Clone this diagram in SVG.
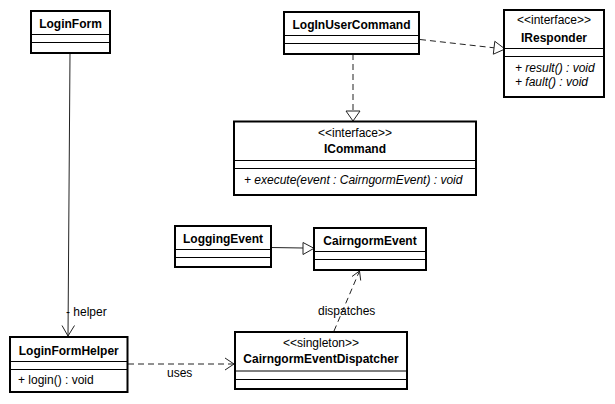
<svg xmlns="http://www.w3.org/2000/svg" width="615" height="404" viewBox="0 0 615 404">
<style>
.box{fill:#fff;stroke:#000;stroke-width:2}
.sep{stroke:#000;stroke-width:1}
text{font-family:"Liberation Sans",Arial,sans-serif;font-size:12px;fill:#000}
.name{font-weight:bold;text-anchor:middle}
.st{text-anchor:middle}
.op{font-style:italic}
.ln{fill:none;stroke:#222;stroke-width:1}
.dash{stroke-dasharray:6,4}
.tri{fill:#fff;stroke:#222;stroke-width:1}
</style>
<rect width="615" height="404" fill="#fff"/>
<g id="connectors">
  <!-- LoginForm to LoginFormHelper -->
  <line class="ln" x1="70" y1="53" x2="68" y2="336"/>
  <polyline class="ln" points="62,325.5 68,336 74.5,325.5"/>
  <text x="66" y="316">- helper</text>
  <!-- LogInUserCommand to IResponder -->
  <line class="ln dash" x1="420" y1="39.5" x2="494" y2="47.8"/>
  <polygon class="tri" points="494.8,41.3 505,49 493.3,54.2"/>
  <!-- LogInUserCommand to ICommand -->
  <line class="ln dash" x1="353" y1="54" x2="353" y2="111"/>
  <polygon class="tri" points="346,111 360,111 353,121"/>
  <!-- LoggingEvent to CairngormEvent -->
  <line class="ln" x1="271" y1="247.5" x2="303" y2="248"/>
  <polygon class="tri" points="303,242.5 314,248.3 303,254.5"/>
  <!-- CairngormEventDispatcher to CairngormEvent -->
  <line class="ln dash" x1="334" y1="331" x2="359.5" y2="271"/>
  <polyline class="ln" points="352,276.5 359.5,271 360.7,280.5"/>
  <text x="318" y="315">dispatches</text>
  <!-- LoginFormHelper to CairngormEventDispatcher -->
  <line class="ln dash" x1="128" y1="364" x2="234" y2="364"/>
  <polyline class="ln" points="225,358 234,364 225,370"/>
  <text x="167" y="377">uses</text>
</g>
<g id="LoginForm">
  <rect class="box" x="31" y="11" width="79" height="42"/>
  <text class="name" x="70.5" y="28">LoginForm</text>
  <line class="sep" x1="31" y1="34.5" x2="110" y2="34.5"/>
  <line class="sep" x1="31" y1="42.5" x2="110" y2="42.5"/>
</g>
<g id="LogInUserCommand">
  <rect class="box" x="284" y="12" width="135" height="42"/>
  <text class="name" x="351.5" y="29">LogInUserCommand</text>
  <line class="sep" x1="284" y1="35.5" x2="419" y2="35.5"/>
  <line class="sep" x1="284" y1="43.5" x2="419" y2="43.5"/>
</g>
<g id="IResponder">
  <rect class="box" x="504" y="10" width="100" height="87"/>
  <text class="st" x="554" y="23.5">&lt;&lt;interface&gt;&gt;</text>
  <text class="name" x="554" y="41.5">IResponder</text>
  <line class="sep" x1="504" y1="48.5" x2="604" y2="48.5"/>
  <line class="sep" x1="504" y1="56.5" x2="604" y2="56.5"/>
  <text class="op" x="515" y="72">+ result() : void</text>
  <text class="op" x="515" y="86">+ fault() : void</text>
</g>
<g id="ICommand">
  <rect class="box" x="234" y="121.5" width="242" height="73.5"/>
  <text class="st" x="355" y="136.5">&lt;&lt;interface&gt;&gt;</text>
  <text class="name" x="355" y="153">ICommand</text>
  <line class="sep" x1="234" y1="160.5" x2="476" y2="160.5"/>
  <line class="sep" x1="234" y1="168.5" x2="476" y2="168.5"/>
  <text class="op" x="244" y="184">+ execute(event : CairngormEvent) : void</text>
</g>
<g id="LoggingEvent">
  <rect class="box" x="175" y="226" width="96" height="41"/>
  <text class="name" x="223" y="242.5">LoggingEvent</text>
  <line class="sep" x1="175" y1="249.5" x2="271" y2="249.5"/>
  <line class="sep" x1="175" y1="257.5" x2="271" y2="257.5"/>
</g>
<g id="CairngormEvent">
  <rect class="box" x="314" y="228" width="112" height="42"/>
  <text class="name" x="370" y="245">CairngormEvent</text>
  <line class="sep" x1="314" y1="251.5" x2="426" y2="251.5"/>
  <line class="sep" x1="314" y1="259.5" x2="426" y2="259.5"/>
</g>
<g id="CairngormEventDispatcher">
  <rect class="box" x="235" y="332" width="172" height="57"/>
  <text class="st" x="321" y="347">&lt;&lt;singleton&gt;&gt;</text>
  <text class="name" x="321" y="363">CairngormEventDispatcher</text>
  <line class="sep" x1="235" y1="371" x2="407" y2="371"/>
  <line class="sep" x1="235" y1="379.5" x2="407" y2="379.5"/>
</g>
<g id="LoginFormHelper">
  <rect class="box" x="10" y="337" width="117.5" height="55"/>
  <text class="name" x="68.75" y="355">LoginFormHelper</text>
  <line class="sep" x1="10" y1="361.5" x2="127.5" y2="361.5"/>
  <line class="sep" x1="10" y1="369.5" x2="127.5" y2="369.5"/>
  <text x="18" y="384">+ login() : void</text>
</g>
</svg>
